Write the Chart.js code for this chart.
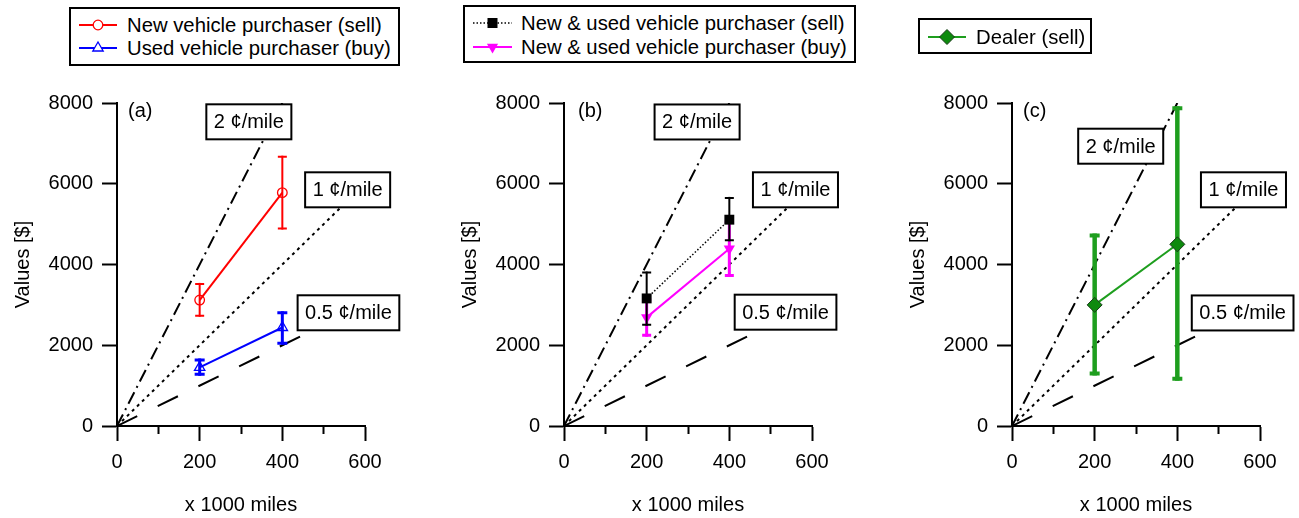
<!DOCTYPE html>
<html><head><meta charset="utf-8">
<script src="https://cdn.jsdelivr.net/npm/chart.js@4.4.1/dist/chart.umd.min.js"></script>
<style>
html,body{margin:0;padding:0;background:#fff;}
#wrap{position:relative;width:1299px;height:518px;overflow:hidden;font-family:'Liberation Sans',Arial,sans-serif;background:#fff;}
canvas{position:absolute;top:0;}
.lg{position:absolute;border:2px solid #000;box-sizing:border-box;background:#fff;}
.li{position:absolute;font-size:20.3px;line-height:24px;white-space:nowrap;color:#000;}
svg.sm{position:absolute;overflow:visible;}
</style></head>
<body><div id="wrap">
<canvas id="ca" width="404" height="518" style="left:0px"></canvas>
<canvas id="cb" width="404" height="518" style="left:447px"></canvas>
<canvas id="cc" width="404" height="518" style="left:895px"></canvas>
</div>
<script>
// ---- data ----
const xTicks = [0, 200, 400, 600];
const xMinorTicks = [100, 300, 500];
const yTicks = [0, 2000, 4000, 6000, 8000];
const miles = [200, 400];

const newSell = [3120, 5780], newSellLo = [2730, 4890], newSellHi = [3520, 6670];
const usedBuy = [1450, 2440], usedBuyLo = [1280, 2050], usedBuyHi = [1635, 2805];
const nuSell = [3160, 5110], nuSellLo = [2510, 4600], nuSellHi = [3800, 5650];
const nuBuy = [2690, 4390], nuBuyLo = [2250, 3730], nuBuyHi = [3130, 5050];
const dealerSell = [3000, 4500], dealerSellLo = [1300, 1170], dealerSellHi = [4720, 7870];

const rate2X = [0, 400], rate2Y = [0, 8000];
const rate1X = [0, 600], rate1Y = [0, 6000];
const rate05X = [0, 600], rate05Y = [0, 3000];
const rateNames = ['2 ¢/mile', '1 ¢/mile', '0.5 ¢/mile'];
const panelTags = ['(a)', '(b)', '(c)'];
const seriesNames = ['New vehicle purchaser (sell)', 'Used vehicle purchaser (buy)',
  'New & used vehicle purchaser (sell)', 'New & used vehicle purchaser (buy)', 'Dealer (sell)'];

// ---- setup ----
const FONT = "'Liberation Sans', Arial, sans-serif";
Chart.defaults.font.family = FONT;
Chart.defaults.font.size = 20;
Chart.defaults.color = '#000';

const pts = (xs, ys) => xs.map((x, i) => ({x: x, y: ys[i]}));

const errPlugin = {
  id: 'errbars',
  beforeDatasetDraw(chart, args) {
    const ds = chart.data.datasets[args.index];
    if (!ds.errLo) return;
    const xs = chart.scales.x, ys = chart.scales.y, ctx = chart.ctx;
    ctx.save();
    ctx.strokeStyle = ds.errColor || ds.borderColor;
    ctx.lineCap = 'butt';
    ds.data.forEach((p, i) => {
      const px = xs.getPixelForValue(p.x);
      const lo = ys.getPixelForValue(ds.errLo[i]);
      const hi = ys.getPixelForValue(ds.errHi[i]);
      ctx.lineWidth = ds.errWidth;
      ctx.beginPath();
      ctx.moveTo(px, lo + ds.capWidth / 2);
      ctx.lineTo(px, hi - ds.capWidth / 2);
      ctx.stroke();
      ctx.lineWidth = ds.capWidth;
      ctx.beginPath();
      ctx.moveTo(px - ds.capHalf, lo); ctx.lineTo(px + ds.capHalf, lo);
      ctx.moveTo(px - ds.capHalf, hi); ctx.lineTo(px + ds.capHalf, hi);
      ctx.stroke();
    });
    ctx.restore();
  }
};

const boxPlugin = {
  id: 'rateBoxes',
  afterDatasetDraw(chart, args, opts) {
    if (args.index !== opts.after) return;
    const xs = chart.scales.x, ys = chart.scales.y, ctx = chart.ctx;
    ctx.save();
    ctx.font = '20px ' + FONT;
    opts.items.forEach(it => {
      const cx = xs.getPixelForValue(it.x), cy = ys.getPixelForValue(it.y);
      const w = ctx.measureText(it.text).width + 15, h = 35;
      ctx.fillStyle = '#fff';
      ctx.fillRect(cx - w / 2, cy - h / 2, w, h);
      ctx.strokeStyle = '#000';
      ctx.lineWidth = 2;
      ctx.strokeRect(cx - w / 2, cy - h / 2, w, h);
      ctx.fillStyle = '#000';
      ctx.textAlign = 'center';
      ctx.textBaseline = 'middle';
      ctx.fillText(it.text, cx, cy + 1);
    });
    ctx.textAlign = 'left';
    ctx.textBaseline = 'middle';
    ctx.fillText(opts.tag, chart.chartArea.left + opts.tagDx, chart.chartArea.top + 8);
    ctx.restore();
  }
};

function makeChart(id, series, boxItems, tag, tagDx) {
  const refs = [
    {data: pts(rate2X, rate2Y), borderDash: [13, 5, 2, 5]},
    {data: pts(rate1X, rate1Y), borderDash: [3, 4]},
    {data: pts(rate05X, rate05Y), borderDash: [22.5, 22.8]}
  ].map(r => Object.assign(r, {borderColor: '#000', borderWidth: 2, pointRadius: 0,
      showLine: true, fill: false, borderCapStyle: 'butt'}));
  const datasets = series.concat(refs);
  return new Chart(document.getElementById(id), {
    type: 'scatter',
    data: {datasets: datasets},
    options: {
      responsive: false, animation: false, devicePixelRatio: 1,
      layout: {padding: {top: 103, right: 39, bottom: 0, left: 0}},
      plugins: {
        legend: {display: false}, tooltip: {enabled: false},
        rateBoxes: {after: series.length, items: boxItems, tag: tag, tagDx: tagDx}
      },
      scales: {
        x: {
          type: 'linear', min: 0, max: 600, position: 'bottom',
          afterBuildTicks: s => { s.ticks = xTicks.map(v => ({value: v})); },
          afterFit: s => { s.height = 92; },
          grid: {display: true, drawOnChartArea: false, drawTicks: true, tickLength: 15,
                 tickWidth: 2, tickColor: '#000'},
          border: {display: true, color: '#000', width: 2},
          ticks: {color: '#000', font: {size: 20}, padding: 9, maxRotation: 0, autoSkip: false,
                  callback: v => String(v)},
          title: {display: true, text: 'x 1000 miles', font: {size: 20}, color: '#000',
                  padding: {top: 0, bottom: 1}}
        },
        xm: {
          type: 'linear', axis: 'x', min: 0, max: 600, position: {y: 0},
          afterBuildTicks: s => { s.ticks = xMinorTicks.map(v => ({value: v})); },
          grid: {display: true, drawOnChartArea: false, drawTicks: true, tickLength: 8,
                 tickWidth: 2, tickColor: '#000'},
          border: {display: false},
          ticks: {display: false}
        },
        y: {
          type: 'linear', min: 0, max: 8000,
          afterBuildTicks: s => { s.ticks = yTicks.map(v => ({value: v})); },
          afterFit: s => { s.width = 117; },
          grid: {display: true, drawOnChartArea: false, drawTicks: true, tickLength: 15,
                 tickWidth: 2, tickColor: '#000'},
          border: {display: true, color: '#000', width: 2},
          ticks: {color: '#000', font: {size: 20}, padding: 9, autoSkip: false,
                  callback: v => String(v)},
          title: {display: true, text: 'Values [$]', font: {size: 20}, color: '#000',
                  padding: {top: 11, bottom: 0}}
        }
      }
    },
    plugins: [errPlugin, boxPlugin]
  });
}

// panel (a)
makeChart('ca', [
  {data: pts(miles, newSell), errLo: newSellLo, errHi: newSellHi, showLine: true,
   borderColor: '#ff0000', borderWidth: 2, pointStyle: 'circle', pointRadius: 4.8,
   pointBorderWidth: 1.3, pointBackgroundColor: 'rgba(0,0,0,0)', pointBorderColor: '#ff0000',
   errWidth: 2, capWidth: 2, capHalf: 4.5},
  {data: pts(miles, usedBuy), errLo: usedBuyLo, errHi: usedBuyHi, showLine: true,
   borderColor: '#0000ff', borderWidth: 2, pointStyle: 'triangle', pointRadius: 6,
   pointBorderWidth: 1.3, pointBackgroundColor: 'rgba(0,0,0,0)', pointBorderColor: '#0000ff',
   errWidth: 3, capWidth: 3, capHalf: 5}
], [
  {text: rateNames[0], x: 319, y: 7534},
  {text: rateNames[1], x: 558, y: 5850},
  {text: rateNames[2], x: 560, y: 2804}
], panelTags[0], 11);

// panel (b)
makeChart('cb', [
  {data: pts(miles, nuSell), errLo: nuSellLo, errHi: nuSellHi, showLine: true,
   borderColor: '#000000', borderWidth: 1.5, borderDash: [1.5, 2], pointStyle: 'rect', pointRadius: 7,
   pointBorderWidth: 0, pointBackgroundColor: '#000000', pointBorderColor: '#000000',
   errWidth: 2, capWidth: 2, capHalf: 4.5},
  {data: pts(miles, nuBuy), errLo: nuBuyLo, errHi: nuBuyHi, showLine: true,
   borderColor: '#ff00ff', borderWidth: 2, pointStyle: 'triangle', pointRotation: 180, pointRadius: 6.5,
   pointBorderWidth: 0, pointBackgroundColor: '#ff00ff', pointBorderColor: '#ff00ff',
   errWidth: 3, capWidth: 3, capHalf: 4.5}
], [
  {text: rateNames[0], x: 322, y: 7530},
  {text: rateNames[1], x: 560, y: 5850},
  {text: rateNames[2], x: 536, y: 2819}
], panelTags[1], 14);

// panel (c)
makeChart('cc', [
  {data: pts(miles, dealerSell), errLo: dealerSellLo, errHi: dealerSellHi, showLine: true,
   borderColor: '#1e9e1e', borderWidth: 2, pointStyle: 'rectRot', pointRadius: 7.5,
   pointBorderWidth: 1, pointBackgroundColor: '#0e8a0e', pointBorderColor: '#1a3a1a',
   errColor: '#1e9e1e', errWidth: 4.5, capWidth: 4, capHalf: 5}
], [
  {text: rateNames[0], x: 263, y: 6930},
  {text: rateNames[1], x: 560, y: 5850},
  {text: rateNames[2], x: 558, y: 2800}
], panelTags[2], 11);

// ---- HTML legends ----
const legends = [
  {box: [69, 7, 331, 59], items: [
    {y: 25, x0: 79, x1: 117, tx: 127, color: '#ff0000', dash: null, marker: 'circle', text: seriesNames[0]},
    {y: 48, x0: 79, x1: 117, tx: 127, color: '#0000ff', dash: null, marker: 'triup', text: seriesNames[1]}]},
  {box: [463, 5, 393, 58], items: [
    {y: 23.3, x0: 473, x1: 512, tx: 521, color: '#000000', dash: '1.5,2', marker: 'square', text: seriesNames[2]},
    {y: 46.7, x0: 473, x1: 512, tx: 521, color: '#ff00ff', dash: null, marker: 'tridown', text: seriesNames[3]}]},
  {box: [918, 18, 174, 36], items: [
    {y: 36.7, x0: 928, x1: 966, tx: 976, color: '#1e9e1e', dash: null, marker: 'diamond', text: seriesNames[4]}]}
];
const wrap = document.getElementById('wrap');
const NS = 'http://www.w3.org/2000/svg';
legends.forEach(lg => {
  const d = document.createElement('div');
  d.className = 'lg';
  d.style.left = lg.box[0] + 'px'; d.style.top = lg.box[1] + 'px';
  d.style.width = lg.box[2] + 'px'; d.style.height = lg.box[3] + 'px';
  wrap.appendChild(d);
  lg.items.forEach(it => {
    const svg = document.createElementNS(NS, 'svg');
    svg.setAttribute('class', 'sm');
    svg.setAttribute('width', it.x1 - it.x0); svg.setAttribute('height', 20);
    svg.style.left = it.x0 + 'px'; svg.style.top = (it.y - 10) + 'px';
    const w = it.x1 - it.x0, cx = w / 2, cy = 10;
    let html = '<line x1="0" y1="10" x2="' + w + '" y2="10" stroke="' + it.color + '" stroke-width="' +
      (it.dash ? 1.5 : 2) + '"' + (it.dash ? ' stroke-dasharray="' + it.dash + '"' : '') + '/>';
    if (it.marker === 'circle')
      html += '<circle cx="' + cx + '" cy="' + cy + '" r="4.8" fill="#fff" stroke="' + it.color + '" stroke-width="1.3"/>';
    else if (it.marker === 'triup')
      html += '<polygon points="' + cx + ',' + (cy - 6) + ' ' + (cx + 5.2) + ',' + (cy + 3) + ' ' + (cx - 5.2) + ',' + (cy + 3) + '" fill="#fff" stroke="' + it.color + '" stroke-width="1.3"/>';
    else if (it.marker === 'square')
      html += '<rect x="' + (cx - 5) + '" y="' + (cy - 5) + '" width="10" height="10" fill="' + it.color + '"/>';
    else if (it.marker === 'tridown')
      html += '<polygon points="' + cx + ',' + (cy + 6.5) + ' ' + (cx + 5.6) + ',' + (cy - 3.2) + ' ' + (cx - 5.6) + ',' + (cy - 3.2) + '" fill="' + it.color + '"/>';
    else if (it.marker === 'diamond')
      html += '<polygon points="' + cx + ',' + (cy - 7.5) + ' ' + (cx + 7.5) + ',' + cy + ' ' + cx + ',' + (cy + 7.5) + ' ' + (cx - 7.5) + ',' + cy + '" fill="#0e8a0e" stroke="#1a3a1a" stroke-width="1"/>';
    svg.innerHTML = html;
    wrap.appendChild(svg);
    const t = document.createElement('div');
    t.className = 'li';
    t.textContent = it.text;
    t.style.left = it.tx + 'px'; t.style.top = (it.y - 12) + 'px';
    wrap.appendChild(t);
  });
});
</script>
</body></html>
